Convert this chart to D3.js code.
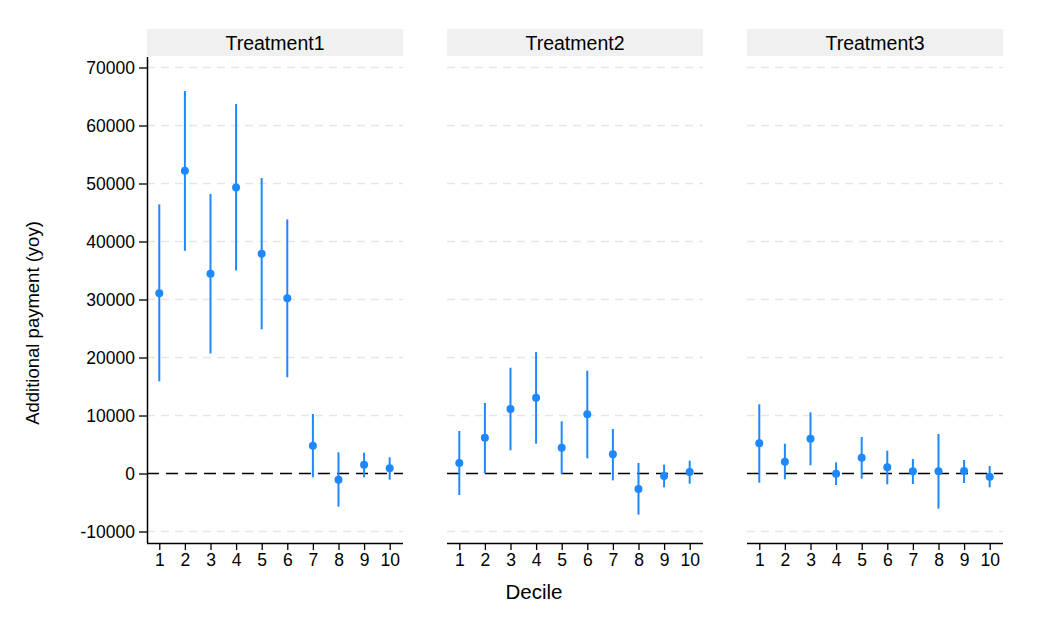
<!DOCTYPE html>
<html>
<head>
<meta charset="utf-8">
<script src="https://cdn.jsdelivr.net/npm/d3@7"></script>
<style>
  body { margin: 0; background: #fff; }
  text { font-family: "Liberation Sans", Arial, sans-serif; fill: #000; }
</style>
</head>
<body>
<svg id="chart" width="1046" height="628"></svg>
<script>
const deciles = [1, 2, 3, 4, 5, 6, 7, 8, 9, 10];
const panels = ["Treatment1", "Treatment2", "Treatment3"];
const yTicks = [-10000, 0, 10000, 20000, 30000, 40000, 50000, 60000, 70000];

const t1Est = [31100, 52200, 34450, 49300, 37900, 30200, 4800, -1060, 1520, 890];
const t1Lo  = [15900, 38400, 20700, 35000, 24860, 16600, -660, -5720, -660, -1060];
const t1Hi  = [46400, 65950, 48200, 63700, 50950, 43800, 10260, 3650, 3590, 2790];

const t2Est = [1810, 6180, 11120, 13070, 4450, 10200, 3300, -2670, -430, 260];
const t2Lo  = [-3710, 30, 4000, 5140, -90, 2610, -1180, -7100, -2380, -1750];
const t2Hi  = [7330, 12160, 18240, 20950, 9000, 17730, 7670, 1810, 1520, 2210];

const t3Est = [5200, 2040, 6000, -30, 2730, 1060, 370, 370, 430, -550];
const t3Lo  = [-1580, -1000, 1410, -1980, -890, -1870, -1810, -6060, -1640, -2380];
const t3Hi  = [11930, 5140, 10550, 1930, 6290, 3940, 2500, 6810, 2330, 1290];

const seriesEst = [t1Est, t2Est, t3Est];
const seriesLo = [t1Lo, t2Lo, t3Lo];
const seriesHi = [t1Hi, t2Hi, t3Hi];

const blue = "#1e88ff";
const svg = d3.select("#chart");

const panelLeft = [147, 447, 747];
const panelW = 256;
const plotTop = 57, plotBottom = 543;
const tickFont = "17.5px";
const fmt = v => String(v);

const y = d3.scaleLinear().domain([-11980, 71810]).range([plotBottom, plotTop]);

panels.forEach((name, p) => {
  const x0 = panelLeft[p];
  const x = d3.scaleLinear().domain([0.52, 10.52]).range([x0, x0 + panelW]);
  const g = svg.append("g");

  // strip
  g.append("rect").attr("x", x0).attr("y", 29).attr("width", panelW).attr("height", 27)
    .attr("fill", "#f0f0f0");
  g.append("text").attr("x", x0 + panelW / 2).attr("y", 49.5)
    .attr("text-anchor", "middle").attr("font-size", "19.5px").text(name);

  // gridlines
  g.selectAll(".grid").data(yTicks.filter(v => v !== 0)).enter().append("line")
    .attr("x1", x0).attr("x2", x0 + panelW)
    .attr("y1", d => y(d)).attr("y2", d => y(d))
    .attr("stroke", "#e6e6e6").attr("stroke-width", 1.3)
    .attr("stroke-dasharray", "8,6");

  // zero line
  g.append("line").attr("x1", x0).attr("x2", x0 + panelW)
    .attr("y1", y(0)).attr("y2", y(0))
    .attr("stroke", "#000").attr("stroke-width", 1.6)
    .attr("stroke-dasharray", "12,7");

  // x axis
  const xAxis = d3.axisBottom(x).tickValues(deciles).tickSize(7).tickPadding(4).tickFormat(fmt);
  const ax = g.append("g").attr("transform", `translate(0,${plotBottom})`).call(xAxis);
  ax.select(".domain").attr("d", `M${x0},0.5H${x0 + panelW}`).attr("stroke-width", 1.5);
  ax.selectAll(".tick line").attr("stroke-width", 1.3);
  ax.selectAll("text").attr("font-size", tickFont).style("font-family", "'Liberation Sans', Arial, sans-serif");

  if (p === 0) {
    const yAxis = d3.axisLeft(y).tickValues(yTicks).tickSize(8).tickPadding(4).tickFormat(fmt);
    const ay = g.append("g").attr("transform", `translate(${x0},0)`).call(yAxis);
    ay.select(".domain").attr("d", `M0.5,${plotTop}V${plotBottom}`).attr("stroke-width", 1.5);
    ay.selectAll(".tick line").attr("stroke-width", 1.3);
    ay.selectAll("text").attr("font-size", tickFont).style("font-family", "'Liberation Sans', Arial, sans-serif");
  }

  const data = deciles.map((d, i) => ({ d, est: seriesEst[p][i], lo: seriesLo[p][i], hi: seriesHi[p][i] }));

  g.selectAll(".ci").data(data).enter().append("line")
    .attr("x1", d => x(d.d)).attr("x2", d => x(d.d))
    .attr("y1", d => y(d.lo)).attr("y2", d => y(d.hi))
    .attr("stroke", blue).attr("stroke-width", 2);

  g.selectAll(".pt").data(data).enter().append("circle")
    .attr("cx", d => x(d.d)).attr("cy", d => y(d.est)).attr("r", 4)
    .attr("fill", blue);
});

// axis titles
svg.append("text").attr("x", 534).attr("y", 599).attr("text-anchor", "middle")
  .attr("font-size", "20.5px").text("Decile");
svg.append("text").attr("transform", "translate(39,323) rotate(-90)").attr("text-anchor", "middle")
  .attr("font-size", "18.5px").text("Additional payment (yoy)");
</script>
</body>
</html>
